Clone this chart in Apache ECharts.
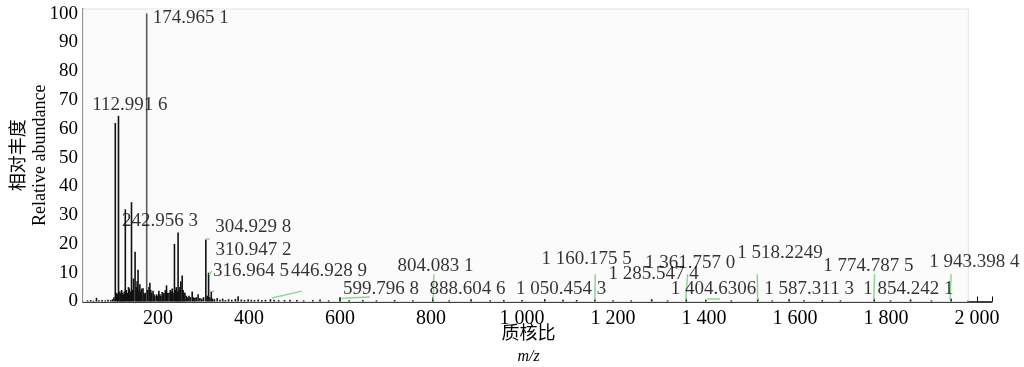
<!DOCTYPE html>
<html>
<head>
<meta charset="utf-8">
<script src="https://cdn.jsdelivr.net/npm/echarts@6/dist/echarts.min.js"></script>
<style>
html,body{margin:0;padding:0;background:#fff;}
#chart{width:1024px;height:367px;}
</style>
</head>
<body>
<div id="chart"></div>
<script>
// 质谱峰 m/z 与相对丰度
var peakMz = [45,52,58,64.6,70,77,84,90,96,100,103,
  106,109,111,113,116,118,120,122,124,126,128,130,133,135,137,139,141.6,144,146,149.5,152,154,156,158,160,162,164,167,169,171,173,
  175,177,180,182,184,186,189,191,193,196.7,199,201.7,204,206,209,211,213,216,218.6,221,224,227,229,231,233,236,238,240,242,244,
  246,248,250,253,255,257,259,262,265,268,271,275,278,281,284,288,292,296,300,305,308,311,314,317,320,324,330,336,342,348,355,
  362,370,376,383,390,398,405,412,420,428,436,447,455,465,478,490,505,520,540,556,575,600,620,650,680,720,760,804,840,888,930,
  960,1000,1050,1090,1120,1160,1200,1240,1285,1320,1361,1404,1460,1518,1550,1587,1620,1660,1700,1774,1810,1854,1900,1943,1980];
var peakAb = [0.4,0.5,0.3,1.3,0.4,0.5,0.4,0.6,0.5,0.8,1.5,
  62,3,2.5,64.5,3.5,2.8,4,3,2.5,3.5,32,4,3,5,4.5,3.5,34.5,4,8,17.3,5,7,11,4,6,3.5,4.5,4.6,3,2.5,3,
  100,4,5,6.5,4,3,3.7,2.5,2,2.5,2,3.7,2.5,2,3.3,2.5,3,4,5.6,3,3,4,3.5,4.5,3,20,4,5,3.5,24,
  4,5,7,9,4,3,3,2,1.5,2,1.5,3.5,1.5,1.2,1.5,2.5,1.2,1,1.5,21.5,2,10,1.5,3.5,1,0.8,1.2,0.6,1,0.5,0.8,
  0.6,0.9,1.8,0.7,0.5,0.8,0.6,0.5,0.7,0.5,0.6,0.8,0.6,0.5,0.5,0.6,0.5,0.4,0.5,0.7,0.4,1.5,0.4,0.5,0.4,0.5,0.4,1.5,0.4,0.8,0.4,
  0.5,0.5,0.8,0.6,0.5,1,0.4,0.4,0.8,0.4,1,0.6,0.4,1,0.4,0.8,0.4,0.5,0.4,1,0.4,0.7,0.4,1,0.3];

// 峰标注
var labelText = ['174.965 1','112.991 6','242.956 3','304.929 8','310.947 2','316.964 5','446.928 9','804.083 1',
  '599.796 8','888.604 6','1 050.454 3','1 160.175 5','1 361.757 0','1 518.2249','1 285.547 4','1 404.6306',
  '1 587.311 3','1 774.787 5','1 854.242 1','1 943.398 4'];
var labelAt = [[272,98.6],[138,68.4],[204,27.8],[409,25.7],[409.5,18],[404,10.5],[575.6,10.5],[810,12.3],
  [690,4.2],[880,4.2],[1086,4.2],[1142,14.6],[1369.5,13.4],[1567,16.9],[1289,9.4],[1421,4.2],
  [1631,4.2],[1761,12.3],[1849,4.2],[1994,13.6]];
// 引线
var leaders = [[[305,21.8],[314,21.9]],[[312,9.2],[318,10.6]],[[315,3.6],[324,3.5]],[[450,1.2],[516,3.6]],
  [[604,1.1],[666,1.6]],[[805,0.6],[806,9.5]],[[1160,0.5],[1161,9.5]],[[1360,0.5],[1364,9.5]],
  [[1407,1.0],[1435,1.1]],[[1518,0.5],[1517,9.5]],[[1773,0.5],[1775,9.5]],[[1941,0.5],[1943,9.5]]];

var xTicks = [200,400,600,800,1000,1200,1400,1600,1800,2000];
var yTicks = [0,10,20,30,40,50,60,70,80,90,100];
var xMin = 35, xMax = 2033, yMax = 101.6;

var serif = '"Liberation Serif", "DejaVu Serif", serif';

var barData = [];
for (var i = 0; i < peakMz.length; i++) {
  if (peakMz[i] === 175) {
    barData.push({value: [peakMz[i], peakAb[i]], itemStyle: {color: '#5a5a5a'}});
  } else {
    barData.push([peakMz[i], peakAb[i]]);
  }
}

var lineData = [];
for (var i = 0; i < leaders.length; i++) {
  lineData.push([{coord: leaders[i][0]}, {coord: leaders[i][1]}]);
}

var chart = echarts.init(document.getElementById('chart'));
var option = {
  animation: false,
  backgroundColor: '#fff',
  grid: {left: 83, right: 32, top: 9, bottom: 65.5, outerBoundsMode: 'none', containLabel: false},
  xAxis: {
    type: 'value', min: xMin, max: xMax,
    name: '{cn|质核比}\n{it|m/z}',
    nameLocation: 'middle', nameGap: 19, nameMoveOverlap: false,
    nameTextStyle: {
      padding: [0, 18, 0, 0],
      rich: {
        cn: {fontFamily: '"Noto Sans CJK SC"', fontSize: 18, color: '#000', lineHeight: 24, align: 'center'},
        it: {fontFamily: serif, fontStyle: 'italic', fontSize: 16, color: '#000', lineHeight: 24, align: 'center'}
      }
    },
    axisLine: {lineStyle: {color: '#000', width: 1.5}},
    axisTick: {inside: true, length: 5, customValues: xTicks.concat([xMax]), lineStyle: {color: '#000'}},
    axisLabel: {
      customValues: xTicks, margin: 7, color: '#000', fontFamily: serif, fontSize: 20,
      formatter: function (v) { return v >= 1000 ? Math.floor(v / 1000) + ' ' + String(v % 1000).padStart(3, '0') : String(v); }
    },
    splitLine: {show: false}
  },
  yAxis: {
    type: 'value', min: 0, max: yMax,
    name: '{cn|相对丰度}\n{en|Relative abundance}',
    nameLocation: 'middle', nameRotate: 90, nameGap: 31, nameMoveOverlap: false,
    nameTextStyle: {
      rich: {
        cn: {fontFamily: '"Noto Sans CJK SC"', fontSize: 18, color: '#000', lineHeight: 23, align: 'center'},
        en: {fontFamily: serif, fontSize: 18, color: '#000', lineHeight: 23, align: 'center'}
      }
    },
    axisLine: {show: true, lineStyle: {color: '#000', width: 1.5}},
    axisTick: {show: true, inside: true, length: 6, customValues: yTicks, lineStyle: {color: '#000'}},
    axisLabel: {customValues: yTicks, margin: 5, color: '#000', fontFamily: serif, fontSize: 19},
    splitLine: {show: false}
  },
  series: [
    {
      type: 'bar',
      barWidth: 1.6,
      itemStyle: {color: '#111'},
      data: barData,
      markArea: {
        silent: true,
        itemStyle: {color: '#fbfbfb', borderColor: '#e4e4e4', borderWidth: 1},
        data: [[{coord: [xMin, 0]}, {coord: [1981, yMax]}]]
      },
      markLine: {
        silent: true, symbol: 'none',
        lineStyle: {color: '#8fd68f', width: 1.5, type: 'solid'},
        label: {show: false},
        data: lineData
      }
    },
    {
      type: 'scatter',
      symbolSize: 0,
      silent: true,
      data: labelAt,
      label: {
        show: true, position: 'inside', color: '#000', fontFamily: serif, fontSize: 19,
        textBorderWidth: 0,
        formatter: function (p) { return labelText[p.dataIndex]; }
      },
      z: 5
    }
  ]
};
chart.setOption(option);
</script>
</body>
</html>
